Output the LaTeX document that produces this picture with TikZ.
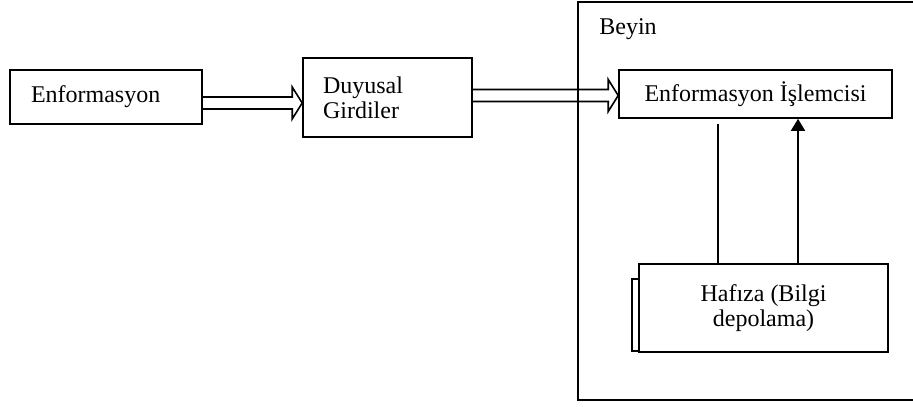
\documentclass[tikz,border=0pt]{standalone}
\usepackage{fontspec}
\setmainfont{Liberation Serif}
\usetikzlibrary{arrows.meta, positioning, calc}

% hollow arrow between two points (shaft, then open head)
\newcommand{\fatarrow}[2]{%
  \draw[line width=0.8pt, line join=miter] ($(#1)+(0,-6)$) -- ($(#2)+(-10,-6)$) -- ($(#2)+(-10,-16)$)
    -- (#2) -- ($(#2)+(-10,16)$) -- ($(#2)+(-10,6)$) -- ($(#1)+(0,6)$);}

\begin{document}
\begin{tikzpicture}[
          x=0.5pt, y=-0.5pt,
          every node/.style={font=\fontsize{12}{12.5}\selectfont},
          box/.style={draw, line width=0.8pt, inner sep=0pt, fill=white},
          frame/.style={line width=0.8pt},
          link/.style={line width=0.8pt}
        ]
          \useasboundingbox (0,0) rectangle (913,406);
          % brain frame, open to the right
          \draw[frame] (913,2) -| (578,400) -- (913,400);
          \node[anchor=base west, inner sep=0pt] (beyin) at (599,35) {Beyin};

          \node[box, minimum width=96pt, minimum height=27pt, text width=75pt, align=left] (enf) at (106,97) {Enformasyon};
          \node[box, minimum width=84.5pt, minimum height=39.5pt, text width=64.5pt, align=left] (duy) at (387.5,97.5) {Duyusal\\Girdiler};
          \node[box, minimum width=136.5pt, minimum height=24pt] (isl) at (755.5,94) {Enformasyon İşlemcisi};
          \node[box, minimum width=124.5pt, minimum height=44pt, align=center] (haf) at (763.5,308) {Hafıza (Bilgi\\depolama)};
          \draw[frame] ([yshift=1pt]haf.south west) -- ++(-6,0) |- ([yshift=-8pt]haf.north west);

          \fatarrow{enf.east |- 0,103}{duy.west |- 0,103}
          \fatarrow{duy.east |- 0,95.5}{isl.west |- 0,95.5}

          \draw[link] ($(isl.south -| 718,0)+(0,5)$) -- (haf.north -| 718,0);
          \draw[link, -{Triangle[length=6pt, width=7pt]}] (haf.north -| 798,0) -- (isl.south -| 798,0);
        \end{tikzpicture}
\end{document}
